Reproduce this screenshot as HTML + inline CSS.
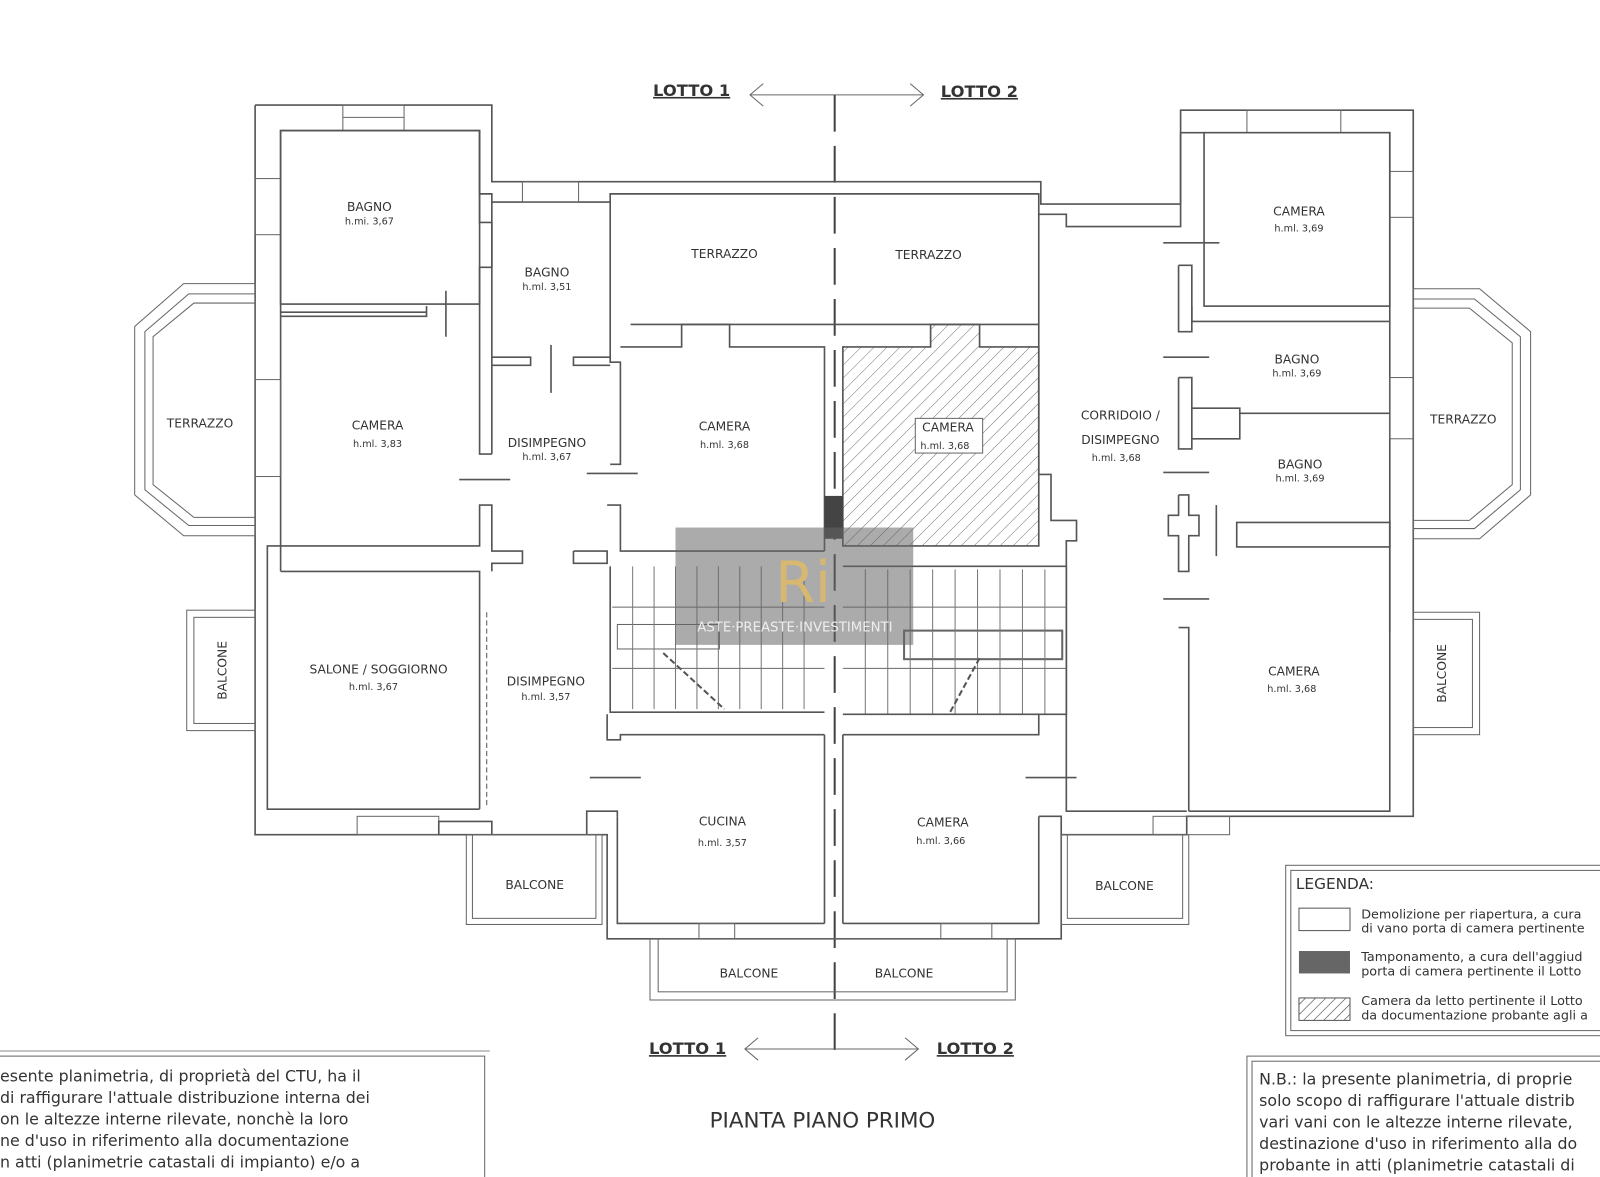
<!DOCTYPE html>
<html><head><meta charset="utf-8"><style>
html,body{margin:0;padding:0;background:#fff;}
svg{display:block}
text{font-family:"DejaVu Sans","Liberation Sans",sans-serif;fill:#333}
.r{font-size:12px;text-anchor:middle}
.h{font-size:9.5px;text-anchor:middle}
.w{fill:none;stroke:#555;stroke-width:1.6}
.t{fill:none;stroke:#666;stroke-width:1}
</style></head><body>
<svg width="1600" height="1177" viewBox="0 0 1600 1177" xmlns="http://www.w3.org/2000/svg">
<defs>
<pattern id="hat" width="9" height="9" patternUnits="userSpaceOnUse" patternTransform="rotate(45)">
<line x1="0" y1="0" x2="0" y2="9" stroke="#777" stroke-width="1"/></pattern>
<pattern id="hat2" width="7" height="7" patternUnits="userSpaceOnUse" patternTransform="rotate(45)">
<line x1="0" y1="0" x2="0" y2="7" stroke="#444" stroke-width="1.2"/></pattern>
</defs>
<g transform="scale(1.0204)">
<!-- LOTTO top -->
<text x="640" y="94" font-size="16" font-weight="bold" style="text-decoration:underline">LOTTO 1</text>
<text x="922" y="95" font-size="16" font-weight="bold" style="text-decoration:underline">LOTTO 2</text>
<g class="t" stroke-width="1.5"><line x1="735" y1="93" x2="905" y2="93"/><polyline points="748,82 735,93 748,104"/><polyline points="892,82 905,93 892,104"/></g>
<line x1="818" y1="93" x2="818" y2="1030" stroke="#444" stroke-width="2" stroke-dasharray="36,14"/>

<polyline class="w" points="250,103 482,103 482,178 1020,178 1020,200 1157,200 1157,108 1385,108 1385,283 1385,525 1385,800 1163,800 1163,818 1040,818 1040,920 820,920 595,920 595,818 482,818 482,818 250,818 250,560 250,103"/>
<polyline class="w" points="275,560 275,128 470,128 470,190 482,190 482,198 598,198 598,190 618,190 1018,190 1018,210 1045,210 1045,222 1157,222 1157,130 1180,130"/>
<polyline class="w" points="1362,130 1362,795 1165,795"/>
<polyline class="w" points="275,535 262,535 262,793 470,793"/>
<polyline class="w" points="605,800 605,905 808,905"/>
<polyline class="w" points="826,905 1018,905 1018,800"/>
<rect x="336" y="103" width="60" height="25" class="t"/><line x1="336" y1="115" x2="396" y2="115" class="t"/>
<rect x="512" y="178" width="55" height="20" class="t"/>
<rect x="1222" y="108" width="92" height="22" class="t"/>
<rect x="250" y="175" width="25" height="55" class="t"/>
<rect x="1362" y="168" width="23" height="45" class="t"/>
<rect x="1362" y="370" width="23" height="60" class="t"/>
<rect x="250" y="372" width="25" height="95" class="t"/>
<rect x="350" y="800" width="80" height="18" class="t"/>
<rect x="1130" y="800" width="75" height="18" class="t"/>
<rect x="685" y="905" width="35" height="15" class="t"/>
<rect x="922" y="905" width="50" height="15" class="t"/>

<rect x="275" y="128" width="195" height="170" class="w"/>
<line x1="275" y1="306" x2="418" y2="306" class="w"/>
<polyline class="w" points="275,310 418,310 418,300"/>
<polyline class="w" points="470,128 470,218 482,218 482,262 470,262 470,445 482,445"/>
<line x1="437" y1="285" x2="437" y2="330" class="w"/>
<polyline class="w" points="275,535 470,535 470,495 482,495 482,540 512,540 512,552 482,552 482,560"/>
<polyline class="w" points="275,560 470,560 470,793"/>
<line x1="470" y1="600" x2="470" y2="790" stroke="#555" stroke-width="1" stroke-dasharray="5,3"/>
<line x1="477" y1="600" x2="477" y2="790" stroke="#555" stroke-width="1" stroke-dasharray="5,3"/>
<polyline class="w" points="482,818 482,805 430,805 430,818"/>
<polyline class="w" points="482,198 482,445"/>
<polyline class="w" points="598,198 598,355 608,355 608,455 598,455"/>
<polyline class="w" points="482,350 520,350 520,358 482,358"/>
<polyline class="w" points="598,350 562,350 562,358 598,358"/>
<line x1="540" y1="338" x2="540" y2="385" class="w"/>
<line x1="450" y1="470" x2="500" y2="470" class="w"/>
<line x1="575" y1="464" x2="625" y2="464" class="w"/>
<line x1="578" y1="762" x2="628" y2="762" class="w"/>
<polyline class="w" points="595,495 608,495 608,540 808,540"/>
<polyline class="w" points="562,540 595,540 595,552 562,552 562,540"/>
<polyline class="w" points="598,555 598,698 808,698"/>
<polyline class="w" points="595,700 595,725 608,725 608,720 808,720"/>
<polyline class="w" points="575,818 575,795 605,795 605,800"/>
<polyline class="w" points="608,340 668,340 668,318 715,318 715,340 808,340 808,540"/>
<polyline class="w" points="618,318 1018,318"/>
<polygon points="826,340 912,340 912,318 960,318 960,340 1018,340 1018,535 826,535" style="fill:url(#hat);stroke:#555;stroke-width:1.6"/>
<rect x="808" y="486" width="18" height="42" fill="#444"/>
<rect x="897" y="410" width="66" height="34" fill="#fff" stroke="#666"/>
<g stroke="#666" stroke-width="1">
<line x1="600" y1="595" x2="808" y2="595"/>
<rect x="605" y="612" width="100" height="24" fill="none"/>
<line x1="600" y1="655" x2="808" y2="655"/>
<line x1="826" y1="595" x2="1045" y2="595"/>
<line x1="826" y1="655" x2="1045" y2="655"/>
<rect x="886" y="618" width="155" height="28" fill="none" stroke-width="2"/>
</g>
<g stroke="#777" stroke-width="1">
<line x1="620" y1="555" x2="620" y2="695"/><line x1="641" y1="555" x2="641" y2="695"/><line x1="662" y1="555" x2="662" y2="695"/><line x1="683" y1="555" x2="683" y2="695"/><line x1="704" y1="555" x2="704" y2="695"/><line x1="725" y1="555" x2="725" y2="695"/><line x1="746" y1="555" x2="746" y2="695"/><line x1="767" y1="555" x2="767" y2="695"/><line x1="788" y1="555" x2="788" y2="695"/>
<line x1="848" y1="558" x2="848" y2="700"/><line x1="870" y1="558" x2="870" y2="700"/><line x1="892" y1="558" x2="892" y2="700"/><line x1="914" y1="558" x2="914" y2="700"/><line x1="936" y1="558" x2="936" y2="700"/><line x1="958" y1="558" x2="958" y2="700"/><line x1="980" y1="558" x2="980" y2="700"/><line x1="1002" y1="558" x2="1002" y2="700"/><line x1="1024" y1="558" x2="1024" y2="700"/>
</g>
<line x1="650" y1="640" x2="710" y2="695" stroke="#555" stroke-width="2" stroke-dasharray="6,3"/>
<line x1="960" y1="645" x2="930" y2="700" stroke="#555" stroke-width="2" stroke-dasharray="6,3"/>
<polyline class="w" points="826,555 1045,555 1045,700 826,700"/>
<polyline class="w" points="826,720 1018,720 1018,700"/>
<polyline class="w" points="808,720 808,905"/><polyline class="w" points="826,720 826,905"/>
<polyline class="w" points="1018,210 1018,465 1030,465 1030,510 1055,510 1055,530 1045,530 1045,795 1163,795"/>
<rect x="1180" y="130" width="182" height="170" class="w"/>
<polyline class="w" points="1168,300 1168,315 1362,315"/>
<polyline class="w" points="1168,400 1215,400 1215,405 1362,405"/>
<polyline class="w" points="1215,405 1215,430 1168,430"/>
<polyline class="w" points="1155,260 1168,260 1168,325 1155,325 1155,260"/>
<polyline class="w" points="1155,370 1168,370 1168,440 1155,440 1155,370"/>
<rect x="1212" y="512" width="150" height="24" class="w"/>
<polyline class="w" points="1155,485 1165,485 1165,505 1175,505 1175,525 1165,525 1165,560 1155,560 1155,525 1145,525 1145,505 1155,505 1155,485"/>
<line x1="1192" y1="495" x2="1192" y2="545" class="w"/>
<line x1="1140" y1="238" x2="1195" y2="238" class="w"/>
<line x1="1140" y1="350" x2="1185" y2="350" class="w"/>
<line x1="1140" y1="463" x2="1185" y2="463" class="w"/>
<line x1="1140" y1="587" x2="1185" y2="587" class="w"/>
<line x1="1005" y1="762" x2="1055" y2="762" class="w"/>
<polyline class="w" points="1155,615 1165,615 1165,795"/>
<line x1="1362" y1="510" x2="1362" y2="620" class="w"/>
<polyline class="w" points="1040,818 1040,800 1018,800"/>
<polygon class="t" points="250,278 180,278 132,320 132,485 180,525 250,525"/>
<polygon class="t" points="250,288 185,288 142,325 142,480 185,515 250,515"/>
<polygon class="t" points="250,297 190,297 150,330 150,475 190,507 250,507"/>
<polygon class="t" points="1385,283 1450,283 1500,325 1500,485 1450,528 1385,528"/>
<polygon class="t" points="1385,293 1445,293 1490,330 1490,480 1445,518 1385,518"/>
<polygon class="t" points="1385,302 1440,302 1482,336 1482,475 1440,510 1385,510"/>
<rect x="183" y="598" width="67" height="118" class="t"/><rect x="190" y="605" width="60" height="104" class="t"/>
<rect x="1385" y="600" width="65" height="120" class="t"/><rect x="1385" y="607" width="58" height="106" class="t"/>
<rect x="457" y="818" width="133" height="88" class="t"/><rect x="463" y="818" width="121" height="82" class="t"/>
<rect x="1040" y="818" width="125" height="88" class="t"/><rect x="1046" y="818" width="113" height="82" class="t"/>
<rect x="637" y="920" width="358" height="60" class="t"/><rect x="645" y="920" width="342" height="52" class="t"/>

<text class="r" x="362" y="207">BAGNO</text><text class="h" x="362" y="220">h.mi. 3,67</text>
<text class="r" x="536" y="271">BAGNO</text><text class="h" x="536" y="284">h.ml. 3,51</text>
<text class="r" x="710" y="253">TERRAZZO</text>
<text class="r" x="910" y="254">TERRAZZO</text>
<text class="r" x="1273" y="211">CAMERA</text><text class="h" x="1273" y="227">h.ml. 3,69</text>
<text class="r" x="1271" y="356">BAGNO</text><text class="h" x="1271" y="369">h.ml. 3,69</text>
<text class="r" x="1274" y="459">BAGNO</text><text class="h" x="1274" y="472">h.ml. 3,69</text>
<text class="r" x="1098" y="411">CORRIDOIO /</text><text class="r" x="1098" y="435">DISIMPEGNO</text><text class="h" x="1094" y="452">h.ml. 3,68</text>
<text class="r" x="1434" y="415">TERRAZZO</text>
<text class="r" x="196" y="419">TERRAZZO</text>
<text class="r" x="370" y="421">CAMERA</text><text class="h" x="370" y="438">h.ml. 3,83</text>
<text class="r" x="536" y="438">DISIMPEGNO</text><text class="h" x="536" y="451">h.ml. 3,67</text>
<text class="r" x="710" y="422">CAMERA</text><text class="h" x="710" y="439">h.ml. 3,68</text>
<text class="r" x="929" y="423">CAMERA</text><text class="h" x="926" y="440">h.ml. 3,68</text>
<text class="r" x="371" y="660">SALONE / SOGGIORNO</text><text class="h" x="366" y="676">h.ml. 3,67</text>
<text class="r" x="535" y="672">DISIMPEGNO</text><text class="h" x="535" y="686">h.ml. 3,57</text>
<text class="r" x="1268" y="662">CAMERA</text><text class="h" x="1266" y="678">h.ml. 3,68</text>
<text class="r" x="708" y="809">CUCINA</text><text class="h" x="708" y="829">h.ml. 3,57</text>
<text class="r" x="924" y="810">CAMERA</text><text class="h" x="922" y="827">h.ml. 3,66</text>
<text class="r" x="524" y="871">BALCONE</text>
<text class="r" x="1102" y="872">BALCONE</text>
<text class="r" x="734" y="958">BALCONE</text>
<text class="r" x="886" y="958">BALCONE</text>
<text class="r" transform="translate(222,657) rotate(-90)">BALCONE</text>
<text class="r" transform="translate(1417,660) rotate(-90)">BALCONE</text>

<rect x="662" y="517" width="233" height="115" fill="#666" opacity="0.55"/>
<text x="787" y="590" font-size="56" text-anchor="middle" style="fill:#d8b870" font-family="Liberation Serif,serif">Ri</text>
<text x="779" y="619" font-size="13" text-anchor="middle" style="fill:#eee" font-family="Liberation Serif,serif">ASTE·PREASTE·INVESTIMENTI</text>

<text x="636" y="1033" font-size="16" font-weight="bold" style="text-decoration:underline">LOTTO 1</text>
<text x="918" y="1033" font-size="16" font-weight="bold" style="text-decoration:underline">LOTTO 2</text>
<g class="t" stroke-width="1.5"><line x1="730" y1="1028" x2="900" y2="1028"/><polyline points="743,1017 730,1028 743,1039"/><polyline points="887,1017 900,1028 887,1039"/></g>
<text x="806" y="1105" font-size="21" text-anchor="middle" font-family="Liberation Sans,sans-serif">PIANTA PIANO PRIMO</text>

<rect x="1260" y="848" width="345" height="167" class="t"/><rect x="1265" y="853" width="340" height="157" class="t"/>
<text x="1270" y="871" font-size="15">LEGENDA:</text>
<rect x="1273" y="890" width="50" height="22" fill="#fff" stroke="#555"/>
<rect x="1273" y="932" width="50" height="22" fill="#666"/>
<rect x="1273" y="978" width="50" height="22" style="fill:url(#hat2);stroke:#555"/>
<text x="1334" y="900" font-size="12.5">Demolizione per riapertura, a cura</text>
<text x="1334" y="914" font-size="12.5">di vano porta di camera pertinente</text>
<text x="1334" y="942" font-size="12.5">Tamponamento, a cura dell'aggiud</text>
<text x="1334" y="956" font-size="12.5">porta di camera pertinente il Lotto</text>
<text x="1334" y="985" font-size="12.5">Camera da letto pertinente il Lotto</text>
<text x="1334" y="999" font-size="12.5">da documentazione probante agli a</text>

<rect x="-5" y="1035" width="480" height="150" class="t"/>
<line x1="0" y1="1030" x2="480" y2="1030" stroke="#888"/>
<g font-size="15.5">
<text x="0" y="1060">esente planimetria, di proprietà del CTU, ha il</text>
<text x="0" y="1081">di raffigurare l'attuale distribuzione interna dei</text>
<text x="0" y="1102">on le altezze interne rilevate, nonchè la loro</text>
<text x="0" y="1123">ne d'uso in riferimento alla documentazione</text>
<text x="0" y="1144">n atti (planimetrie catastali di impianto) e/o a</text>
</g>
<rect x="1222" y="1035" width="390" height="150" class="t"/><rect x="1227" y="1040" width="380" height="145" class="t"/>
<g font-size="15.5">
<text x="1234" y="1063">N.B.: la presente planimetria, di proprie</text>
<text x="1234" y="1084">solo scopo di raffigurare l'attuale distrib</text>
<text x="1234" y="1105">vari vani con le altezze interne rilevate,</text>
<text x="1234" y="1126">destinazione d'uso in riferimento alla do</text>
<text x="1234" y="1147">probante in atti (planimetrie catastali di</text>
</g>
</g>
</svg>
</body></html>
